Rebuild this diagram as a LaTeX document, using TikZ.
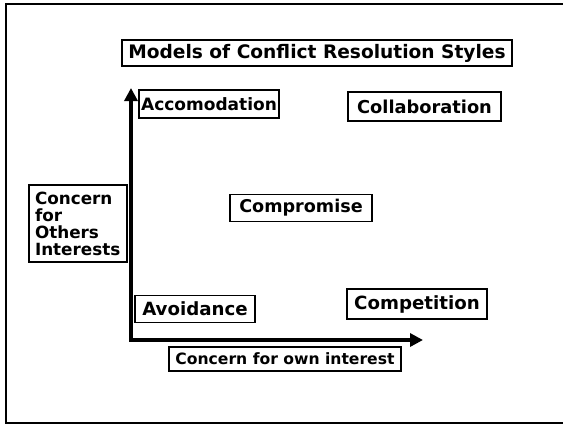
\documentclass[tikz,border=0pt]{standalone}
\usepackage{fontspec}
\newfontfamily\boxfont{DejaVu Sans}
\usetikzlibrary{arrows.meta}

\begin{document}
\begin{tikzpicture}[
  x=1pt, y=-1pt,
  fs/.style={font=\boxfont\bfseries\fontsize{#1}{17}\selectfont},
  every node/.style={fs=18},
  box/.style={
    draw, line width=1.5pt,
    inner xsep=2pt, inner ysep=3pt,
    minimum height=27pt
  },
  axis/.style={{Triangle[length=13pt,width=13pt]}-{Triangle[length=13pt,width=13pt]}, line width=4pt},
  frame/.style={line width=2pt}
]
\useasboundingbox (0,0) rectangle (563,424);

% Frame
\draw[frame] (563,4) -- (6,4) -- (6,422.5) -- (563,422.5);

% Nodes
\node[box, fs=18.6, minimum width=390pt, minimum height=26pt] (title) at (317,53) {Models of Conflict Resolution Styles};
\node[box, fs=17, minimum width=139pt, minimum height=28pt] (acc) at (209,104) {Accomodation};
\node[box, fs=17.8, minimum width=153pt, minimum height=29pt] (collab) at (424.5,106.5) {Collaboration};
\node[box, fs=17.6, minimum width=142pt] (compro) at (301,208) {Compromise};
\node[box, fs=16.8, text width=86pt, inner xsep=6pt, minimum height=77pt, align=left] (others) at (78,223.5) {Concern\\for\\Others\\Interests};
\node[box, fs=18.2, minimum width=120pt] (avoid) at (195,309) {Avoidance};
\node[box, fs=18.2, minimum width=140pt, minimum height=30pt] (compet) at (417,304) {Competition};
\node[box, fs=15.6, minimum width=232pt, minimum height=24pt] (own) at (285,359) {Concern for own interest};

% Axes
\coordinate (origin) at (131,340);
\coordinate (ytip) at (131,88);
\coordinate (xtip) at (423,340);
\draw[axis] (ytip) -- (origin) -- (xtip);
\end{tikzpicture}
\end{document}
